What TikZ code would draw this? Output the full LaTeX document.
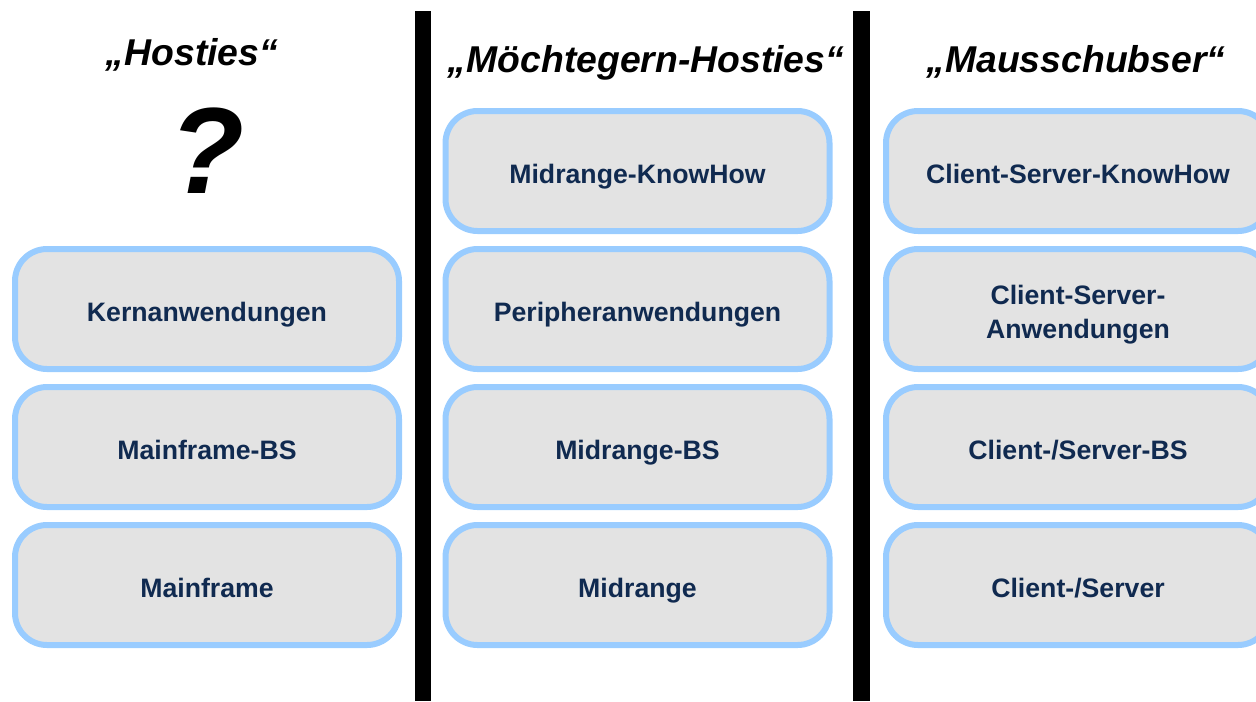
\documentclass[tikz,border=0pt]{standalone}
\usepackage{fontspec}
\setmainfont{Liberation Sans}

\definecolor{boxline}{HTML}{99CCFF}
\definecolor{boxfill}{HTML}{E3E3E3}
\definecolor{boxtext}{HTML}{102A50}

\tikzstyle{box} = [style={rectangle, draw=boxline, fill=boxfill, line width=4.5pt, rounded corners=24pt, minimum width=288pt, minimum height=90pt, inner sep=0pt, align=center, text height=18pt, text depth=0pt, text=boxtext, font=\bfseries\fontsize{20}{25.5}\selectfont}]
\tikzstyle{title} = [style={anchor=base, inner sep=0pt, font=\bfseries\itshape\fontsize{28}{32}\selectfont}]
\tikzstyle{bar} = [style={fill=black}]
\newcommand*{\ystart}{171}
\newcommand*{\ystep}{138}

\begin{document}
\begin{tikzpicture}[x=0.75pt,y=-0.75pt]
\useasboundingbox (0,0) rectangle (1256,701);

%% separators
\fill [bar] (415,11) rectangle (431,701);
\fill [bar] (853,11) rectangle (870,701);

%% titles
\node [title] (t1) at (192,65) {„Hosties“};
\node [title] (t2) at (646,72) {„Möchtegern-Hosties“};
\node [title] (t3) at (1076,72) {„Mausschubser“};

\node [anchor=base, inner sep=0pt, font=\bfseries\itshape\fontsize{92}{92}\selectfont] (q) at (207,193) {?};

%% boxes
\foreach \y/\t in {2/Kernanwendungen,3/Mainframe-BS,4/Mainframe}
  {\node [box] (h\y) at (207,{\ystart+(\y-1)*\ystep}) {\t};}

\foreach \y/\t in {1/Midrange-KnowHow,2/Peripheranwendungen,3/Midrange-BS,4/Midrange}
  {\node [box] (m\y) at (637.5,{\ystart+(\y-1)*\ystep}) {\t};}

\foreach \y/\t in {1/{Client-Server-KnowHow},3/{Client-/Server-BS},4/{Client-/Server}}
  {\node [box] (c\y) at (1078,{\ystart+(\y-1)*\ystep}) {\t};}
\node [box, text height=43.5pt] (c2) at (1078,{\ystart+\ystep}) {Client-Server-\\Anwendungen};

\end{tikzpicture}
\end{document}
